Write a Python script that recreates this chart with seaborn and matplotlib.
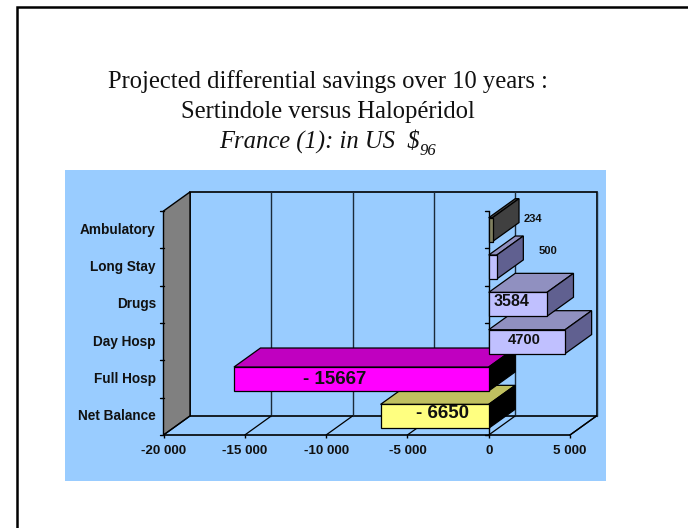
import numpy as np
import pandas as pd
import matplotlib
matplotlib.use("Agg")
import matplotlib.pyplot as plt
from matplotlib.patches import Polygon, Rectangle
from matplotlib.transforms import ScaledTranslation
import seaborn as sns

categories = ["Ambulatory", "Long Stay", "Drugs", "Day Hosp", "Full Hosp", "Net Balance"]
values = [234, 500, 3584, 4700, -15667, -6650]
value_labels = ["234", "500", "3584", "4700", "- 15667", "- 6650"]
x_ticks = [-20000, -15000, -10000, -5000, 0, 5000]
x_tick_labels = ["-20 000", "-15 000", "-10 000", "-5 000", "0", "5 000"]
front_colors = ["#808060", "#C0C0FF", "#C0C0FF", "#C0C0FF", "#FF00FF", "#FFFF80"]
top_colors = ["#404040", "#9090C0", "#9090C0", "#9090C0", "#C000C0", "#C0C060"]
side_colors = ["#404040", "#606090", "#606090", "#606090", "#000000", "#000000"]
title_lines = ["Projected differential savings over 10 years :", "Sertindole versus Halopéridol"]
subtitle = "France (1): in US  $"
subtitle_sub = "96"

W, H = 688, 528
BLUE = "#99CCFF"
SANS = "Liberation Sans"
SERIF = "Liberation Serif"


def fx(x):
    return x / W


def fy(y):
    return 1 - y / H


sns.set_theme(style="white")
plt.rcParams["font.family"] = [SANS, "DejaVu Sans"]
fig = plt.figure(figsize=(W / 100, H / 100), dpi=100, facecolor="white")

# page frame runs off the right and bottom of the picture
fig.add_artist(Rectangle((fx(17), fy(560)), (760 - 17) / W, (560 - 7) / H, transform=fig.transFigure,
                         fc="white", ec="black", lw=1.8, zorder=-3))
fig.add_artist(Rectangle((fx(65), fy(481)), (606 - 65) / W, (481 - 170) / H, transform=fig.transFigure,
                         fc=BLUE, ec="none", zorder=-2))

ax = fig.add_axes([fx(163.5), fy(435), (570 - 163.5) / W, (435 - 211) / H])
ax.patch.set_alpha(0)

df = pd.DataFrame({"category": categories, "value": values})
sns.barplot(data=df, y="category", x="value", hue="category", order=categories, hue_order=categories,
            palette=front_colors, width=0.64, legend=False, dodge=False, ax=ax, saturation=1, zorder=20)
ax.set_xlim(-20000, 5000)
ax.set_ylim(5.5, -0.5)
ax.set_xlabel("")
ax.set_ylabel("")
for s in ax.spines.values():
    s.set_visible(False)

# depth of the pseudo-3D projection, in data units
DX = 1630
DY = 0.51
KW = dict(clip_on=False)
x0, x1 = ax.get_xlim()
yb, yt = ax.get_ylim()

# walls and floor
ax.add_patch(Polygon([(x0 + DX, yt - DY), (x1 + DX, yt - DY), (x1 + DX, yb - DY), (x0 + DX, yb - DY)],
                     fc=BLUE, ec="black", lw=1.2, zorder=1, **KW))
ax.add_patch(Polygon([(x0, yt), (x0 + DX, yt - DY), (x0 + DX, yb - DY), (x0, yb)],
                     fc="#808080", ec="black", lw=1.0, zorder=2, **KW))
for t in x_ticks:
    if t != x0:
        ax.plot([t + DX, t + DX], [yt - DY, yb - DY], color="#1a2a3a", lw=1.0, zorder=1.5, **KW)
    ax.plot([t, t + DX], [yb, yb - DY], color="black", lw=0.9, zorder=2, **KW)
ax.plot([x0, x1], [yb, yb], color="black", lw=1.2, zorder=3, **KW)
ax.plot([x1 + DX, x1], [yb - DY, yb], color="black", lw=1.0, zorder=3, **KW)
ax.plot([0, 0], [yt, yb], color="black", lw=1.0, zorder=3, **KW)

# ticks
ax.set_xticks(x_ticks)
ax.set_xticklabels(x_tick_labels, fontsize=9.6, fontweight="bold", color="#111111")
ax.tick_params(axis="x", length=2.5, width=1, color="black", pad=5, bottom=True)
ax.set_yticks(np.arange(len(categories)))
ax.set_yticklabels(categories, fontsize=9.8, fontweight="bold", color="#111111")
ax.tick_params(axis="y", length=0, pad=5.5)
up = ScaledTranslation(0, 1.5 / 72 * 72 / 100, fig.dpi_scale_trans)
for lab in ax.get_yticklabels():
    lab.set_transform(lab.get_transform() + up)
for edge in np.arange(yb, yt - 0.01, -1):
    ax.plot([x0 - 200, x0], [edge, edge], color="black", lw=1, zorder=3, **KW)
    ax.plot([-220, 0], [edge, edge], color="black", lw=1, zorder=3, **KW)

# bars: front faces from seaborn, depth faces from the same values; lower rows go first
n = len(categories)
bars = [p for p in ax.patches if isinstance(p, Rectangle) and p.get_height() != 0]
half = 0.32
for i, (v, cat) in enumerate(zip(values, categories)):
    base_z = 10 + (n - i) * 3
    lo, hi = min(v, 0), max(v, 0)
    ax.add_patch(Polygon([(lo, i - half), (lo + DX, i - half - DY), (hi + DX, i - half - DY), (hi, i - half)],
                         fc=top_colors[i], ec="black", lw=0.9, zorder=base_z, **KW))
    ax.add_patch(Polygon([(hi, i - half), (hi + DX, i - half - DY), (hi + DX, i + half - DY), (hi, i + half)],
                         fc=side_colors[i], ec="black", lw=0.9, zorder=base_z, **KW))
for p in bars:
    i = int(round(p.get_y() + p.get_height() / 2))
    p.set_edgecolor("black")
    p.set_linewidth(0.9)
    p.set_zorder(11 + (n - i) * 3)
    p.set_clip_on(False)

# value labels (pixel centres)
label_px = [(532.5, 219.5, 8), (547.5, 251.5, 8), (512, 301.5, 11.5), (524, 339.5, 10.5), (335, 379.5, 13.5), (442, 413.5, 13.5)]
for txt, (px, py, size) in zip(value_labels, label_px):
    fig.text(fx(px), fy(py), txt, ha="center", va="center", fontsize=size, fontweight="bold",
             color="#111111", family=SANS, zorder=50)

# titles
fig.text(fx(327.5), fy(88), title_lines[0], ha="center", va="baseline", family=SERIF, fontsize=17.75, color="#111111")
fig.text(fx(327.5), fy(118), title_lines[1], ha="center", va="baseline", family=SERIF, fontsize=17.75, color="#111111")
fig.text(fx(219), fy(148), subtitle, ha="left", va="baseline", family=SERIF, style="italic", fontsize=17.75, color="#111111")
fig.text(fx(420), fy(155), subtitle_sub, ha="left", va="baseline", family=SERIF, style="italic", fontsize=12, color="#111111")

fig.savefig("out.png", dpi=100)
